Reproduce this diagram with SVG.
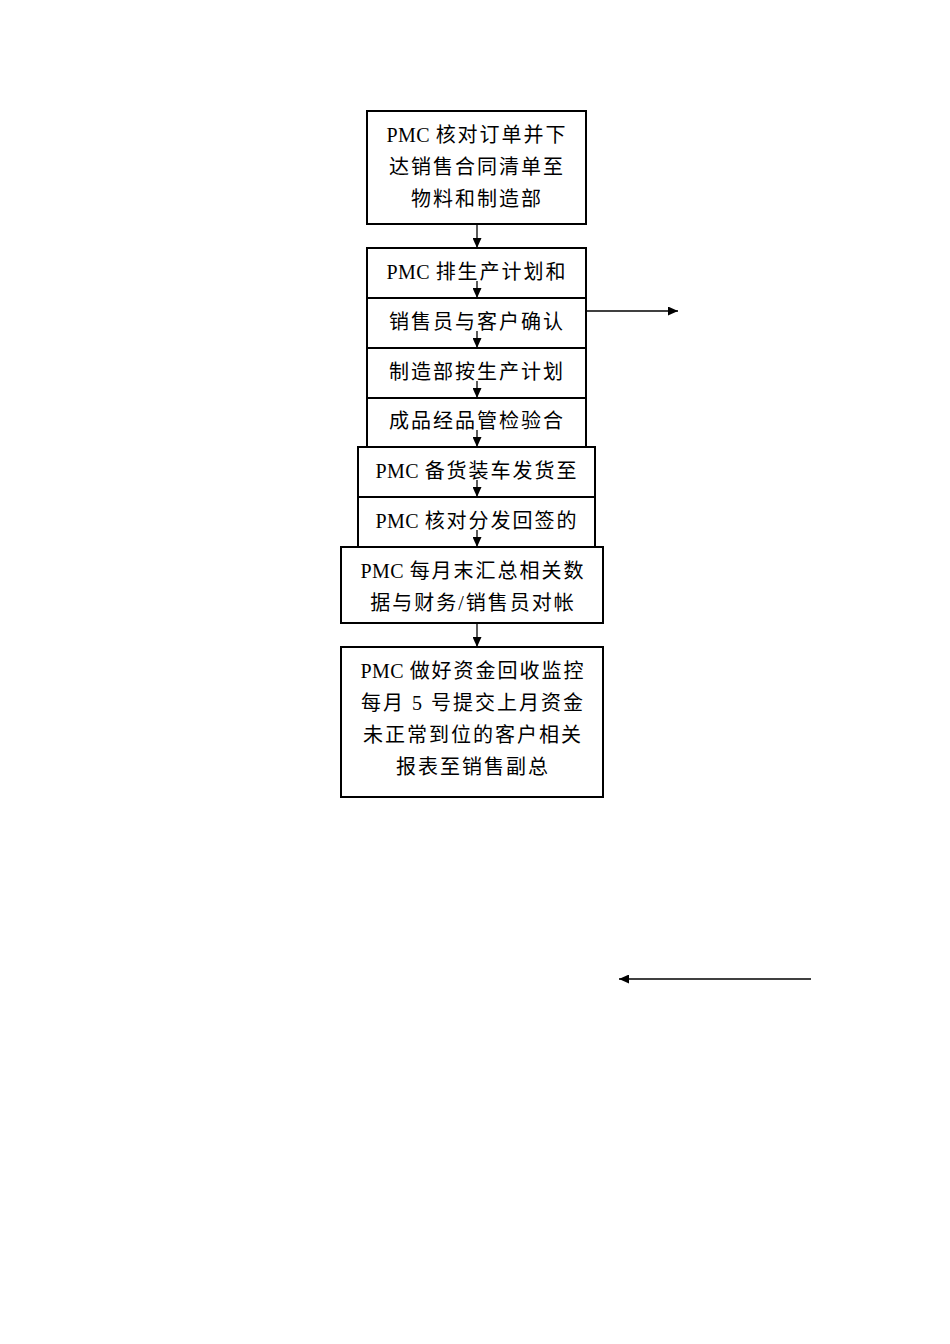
<svg xmlns="http://www.w3.org/2000/svg" width="950" height="1344" viewBox="0 0 950 1344">
<style>
.box{fill:#fff;stroke:#000;stroke-width:2}
.t{font-family:"Liberation Serif","Noto Sans CJK SC",serif;font-size:20px;letter-spacing:2px;text-anchor:middle;fill:#000}
.l{letter-spacing:0.5px}
.c{stroke:#000;stroke-width:1.3;fill:none;marker-end:url(#ah)}
</style>
<defs>
<marker id="ah" viewBox="0 0 10 10" refX="10" refY="5" markerWidth="10" markerHeight="9" markerUnits="userSpaceOnUse" orient="auto" preserveAspectRatio="none">
<path d="M0,0 L10,5 L0,10 z" fill="#000"/>
</marker>
</defs>
<rect width="950" height="1344" fill="#fff"/>
<g id="n1"><rect class="box" x="367" y="111" width="219" height="113"/>
<text class="t" x="477" y="142"><tspan class="l">PMC </tspan>核对订单并下</text>
<text class="t" x="477" y="174">达销售合同清单至</text>
<text class="t" x="477" y="206">物料和制造部</text></g>
<g id="n2"><rect class="box" x="367" y="248" width="219" height="60"/>
<text class="t" x="477" y="279"><tspan class="l">PMC </tspan>排生产计划和</text></g>
<g id="n3"><rect class="box" x="367" y="298" width="219" height="60"/>
<text class="t" x="477" y="329">销售员与客户确认</text></g>
<g id="n4"><rect class="box" x="367" y="348" width="219" height="60"/>
<text class="t" x="477" y="379">制造部按生产计划</text></g>
<g id="n5"><rect class="box" x="367" y="398" width="219" height="60"/>
<text class="t" x="477" y="428">成品经品管检验合</text></g>
<g id="n6"><rect class="box" x="358" y="447" width="237" height="60"/>
<text class="t" x="477" y="478"><tspan class="l">PMC </tspan>备货装车发货至</text></g>
<g id="n7"><rect class="box" x="358" y="497" width="237" height="60"/>
<text class="t" x="477" y="528"><tspan class="l">PMC </tspan>核对分发回签的</text></g>
<g id="n8"><rect class="box" x="341" y="547" width="262" height="76"/>
<text class="t" x="473" y="578"><tspan class="l">PMC </tspan>每月末汇总相关数</text>
<text class="t" x="473" y="610">据与财务/销售员对帐</text></g>
<g id="n9"><rect class="box" x="341" y="647" width="262" height="150"/>
<text class="t" x="473" y="678"><tspan class="l">PMC </tspan>做好资金回收监控</text>
<text class="t" x="473" y="710">每月 5 号提交上月资金</text>
<text class="t" x="473" y="742">未正常到位的客户相关</text>
<text class="t" x="473" y="774">报表至销售副总</text></g>
<g id="connectors">
<line class="c" x1="477" y1="224" x2="477" y2="248"/>
<line class="c" x1="477" y1="281" x2="477" y2="298"/>
<line class="c" x1="477" y1="331" x2="477" y2="348"/>
<line class="c" x1="477" y1="381" x2="477" y2="398"/>
<line class="c" x1="477" y1="430" x2="477" y2="447"/>
<line class="c" x1="477" y1="480" x2="477" y2="497"/>
<line class="c" x1="477" y1="530" x2="477" y2="547"/>
<line class="c" x1="477" y1="623" x2="477" y2="647"/>
<line class="c" x1="586" y1="311" x2="678" y2="311"/>
<line class="c" x1="811" y1="979" x2="619" y2="979"/>
</g>
</svg>
